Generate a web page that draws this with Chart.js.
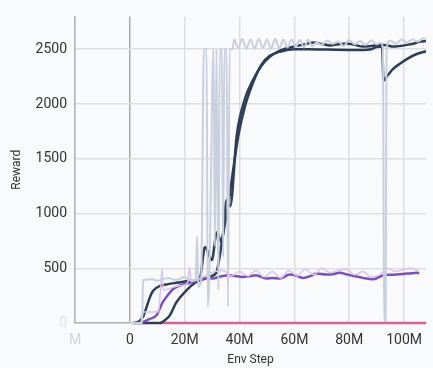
<!DOCTYPE html>
<html>
<head>
<meta charset="utf-8">
<script src="https://cdn.jsdelivr.net/npm/chart.js@4"></script>
<style>
  html, body { margin: 0; padding: 0; background: #f9fafc; }
  #wrap { width: 433px; height: 368px; }
</style>
</head>
<body>
<div id="wrap"><canvas id="rewardChart" width="433" height="368"></canvas></div>
<script>
// env steps in millions, reward values

// run A, smoothed (dark)
const stepsA = [1.5, 3, 4.8, 6.1, 7.3, 8.5, 11, 14, 17, 20, 23, 25.5, 27.4, 29.9, 31.7, 33.5, 35.3, 36.6, 39, 42, 45, 48, 51, 54.7, 59.6, 63, 67, 70, 73, 76, 79, 82, 85, 88, 91.4, 94, 96, 98.5, 101, 104, 106, 108];
const rewardA = [0, 10, 56, 145, 234, 294, 338, 355, 367, 378, 390, 405, 694, 575, 827, 738, 1124, 1067, 1717, 2050, 2224, 2350, 2430, 2488, 2524, 2540, 2562, 2548, 2535, 2545, 2553, 2540, 2524, 2530, 2540, 2535, 2524, 2530, 2540, 2555, 2571, 2575];

// run B, smoothed (dark)
const stepsB = [1, 9, 11, 13, 14.6, 17, 20.7, 23.8, 25.6, 28, 30, 31.7, 34.1, 35.9, 37.8, 39.6, 42, 45, 48, 51, 55, 60, 65, 70, 75, 80, 85, 88, 90, 92, 92.5, 94, 96, 98.6, 101, 104, 108];
const rewardB = [0, 0, 0, 30, 70, 190, 300, 367, 390, 410, 430, 472, 827, 1080, 1420, 1717, 1980, 2200, 2360, 2440, 2480, 2500, 2500, 2498, 2495, 2494, 2494, 2500, 2520, 2525, 2215, 2260, 2320, 2370, 2410, 2450, 2482];

// raw (unsmoothed) reward of the dark runs
const stepsRaw = [0, 4.5, 4.8, 8, 10, 12, 14, 16, 18, 20, 22, 24, 24.5, 25, 26, 27, 28, 28.4, 29, 30.5, 31, 31.6, 32.3, 32.8, 33.6, 34, 34.5, 35.3, 35.8, 36.4, 37.5, 38, 39.5, 41, 42.5, 44, 45.5, 47, 48.5, 50, 51.5, 53, 54.5, 56, 57.5, 59, 60.5, 62, 63.5, 65, 66.5, 68, 70, 72, 74, 76, 78, 80, 82, 84, 86, 88, 90, 91.5, 92.3, 92.7, 93.3, 93.6, 95, 97, 99, 101, 103, 105, 107, 108];
const rewardRaw = [0, 0, 390, 400, 385, 400, 410, 395, 400, 420, 390, 400, 790, 330, 380, 2500, 2500, 150, 420, 2500, 700, 2500, 300, 2500, 2500, 600, 2500, 2500, 150, 2500, 2500, 2590, 2510, 2595, 2505, 2590, 2505, 2595, 2510, 2590, 2505, 2595, 2510, 2590, 2515, 2590, 2520, 2585, 2515, 2590, 2525, 2560, 2540, 2580, 2550, 2570, 2530, 2585, 2545, 2575, 2540, 2580, 2545, 2560, 2500, 20, 20, 2500, 2580, 2550, 2590, 2560, 2590, 2570, 2600, 2590];

// run C, smoothed (purple) and raw
const stepsC = [3, 4.8, 7, 9.7, 12, 14, 15.8, 18, 22, 25, 28, 30.3, 33, 36.4, 38.5, 41.3, 44, 46, 49.8, 52, 54.7, 58.3, 61, 63.2, 66, 68, 71.7, 74, 76.6, 79, 81.5, 85, 88.8, 92.5, 95, 97.3, 101, 103, 104.7, 105.5];
const rewardC = [0, 10, 35, 70, 190, 260, 310, 340, 367, 390, 412, 406, 425, 436, 428, 421, 430, 436, 406, 410, 406, 442, 430, 412, 430, 451, 442, 445, 460, 445, 430, 412, 400, 436, 440, 442, 451, 455, 460, 452];
const stepsCRaw = [4, 5, 9, 10.5, 11, 11.8, 12.2, 15, 18, 21, 21.8, 22.3, 25, 28, 31, 34, 37, 40, 43, 46, 49, 52, 55, 58, 61, 64, 67, 70, 73, 76, 79, 82, 85, 88, 91, 94, 97, 100, 103, 105.5];
const rewardCRaw = [0, 100, 100, 105, 250, 490, 300, 320, 340, 360, 510, 380, 400, 440, 470, 480, 430, 470, 430, 480, 420, 470, 410, 480, 430, 490, 440, 500, 460, 480, 490, 440, 470, 420, 440, 500, 470, 490, 500, 470];

// run D (pink), stuck at zero
const stepsD = [11, 108];
const rewardD = [0, 0];

const xTicks = [-20, 0, 20, 40, 60, 80, 100];
const yTicks = [0, 500, 1000, 1500, 2000, 2500];

function pts(xs, ys) {
  return xs.map((x, i) => ({ x: x, y: ys[i] }));
}

const ctx = document.getElementById('rewardChart').getContext('2d');
const rewardChart = new Chart(ctx, {
  type: 'line',
  data: {
    datasets: [
      { data: pts(stepsRaw, rewardRaw), borderColor: '#c8d0dd', borderWidth: 2, cubicInterpolationMode: 'monotone' },
      { data: pts(stepsCRaw, rewardCRaw), borderColor: '#dcc3ec', borderWidth: 1.5, cubicInterpolationMode: 'monotone' },
      { data: pts(stepsC, rewardC), borderColor: '#7c4fbe', borderWidth: 2.5, cubicInterpolationMode: 'monotone' },
      { data: pts(stepsB, rewardB), borderColor: '#2d3d55', borderWidth: 2.5, cubicInterpolationMode: 'monotone' },
      { data: pts(stepsA, rewardA), borderColor: '#2d3d55', borderWidth: 2.5, cubicInterpolationMode: 'monotone' },
      { data: pts(stepsD, rewardD), borderColor: '#d4629d', borderWidth: 2.5 }
    ]
  },
  options: {
    responsive: false,
    animation: false,
    parsing: false,
    layout: { padding: { top: 9, right: 7, left: 0, bottom: 0 } },
    elements: { point: { radius: 0 }, line: { fill: false } },
    datasets: { line: { clip: false } },
    plugins: { legend: { display: false }, tooltip: { enabled: false } },
    scales: {
      x: {
        type: 'linear',
        min: -20,
        max: 108,
        afterFit: s => { s.height = 45; },
        afterBuildTicks: s => { s.ticks = xTicks.map(v => ({ value: v })); },
        grid: {
          drawTicks: false,
          lineWidth: 1.5,
          color: c => (c.tick && c.tick.value === 0) ? '#a9a9a9' : '#dedede'
        },
        border: { color: '#b4b4b4', width: 1.5 },
        ticks: {
          padding: 9,
          maxRotation: 0,
          font: { family: 'Roboto', size: 14 },
          color: c => c.tick.value < 0 ? '#d6d6d6' : '#333',
          callback: v => v < 0 ? 'M' : (v === 0 ? '0' : v + 'M')
        },
        title: {
          display: true,
          text: 'Env Step',
          color: '#333',
          font: { family: 'Roboto', size: 12 },
          padding: { top: 0, bottom: 1 }
        }
      },
      y: {
        min: 0,
        max: 2800,
        afterFit: s => { s.width = 75; },
        afterBuildTicks: s => { s.ticks = yTicks.map(v => ({ value: v })); },
        grid: { drawTicks: false, lineWidth: 1.5, color: '#dedede' },
        border: { color: '#b4b4b4', width: 1.5 },
        ticks: {
          padding: 8,
          font: { family: 'Roboto', size: 14 },
          color: c => c.tick.value === 0 ? '#e2e2e2' : '#333',
          callback: v => String(v)
        },
        title: {
          display: true,
          text: 'Reward',
          color: '#333',
          font: { family: 'Roboto', size: 12 },
          padding: { top: 10, bottom: 0 }
        }
      }
    }
  }
});
</script>
</body>
</html>
